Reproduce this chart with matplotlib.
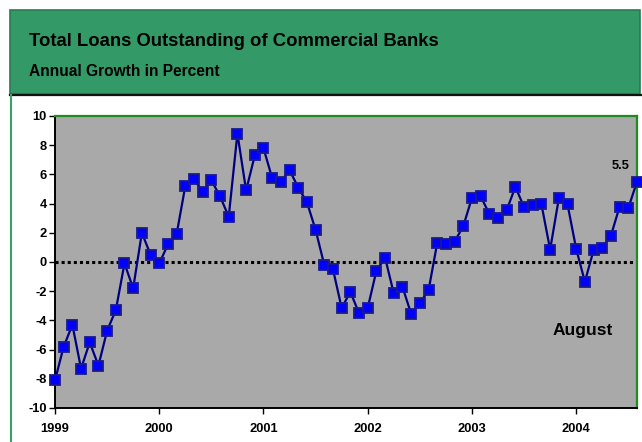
import matplotlib
matplotlib.use("Agg")
import matplotlib.pyplot as plt
from matplotlib.patches import Rectangle
from matplotlib.lines import Line2D

plt.rcParams['font.family'] = ['Liberation Sans', 'DejaVu Sans']
plt.rcParams['axes.unicode_minus'] = False

# annual growth of total loans, monthly, Jan 1999 .. Aug 2004
growth = [
    -8.1, -5.8, -4.3, -7.3, -5.5, -7.1, -4.7, -3.3, -0.1, -1.8, 2.0, 0.5,   # 1999
    -0.1, 1.2, 1.9, 5.2, 5.7, 4.8, 5.6, 4.5, 3.1, 8.8, 4.9, 7.3,            # 2000
    7.8, 5.75, 5.5, 6.3, 5.1, 4.1, 2.2, -0.2, -0.5, -3.15, -2.05, -3.5,     # 2001
    -3.15, -0.6, 0.3, -2.15, -1.7, -3.55, -2.8, -1.95, 1.3, 1.25, 1.4, 2.45,  # 2002
    4.4, 4.5, 3.3, 3.0, 3.55, 5.15, 3.75, 3.9, 3.95, 0.85, 4.35, 3.95,      # 2003
    0.9, -1.35, 0.8, 0.95, 1.8, 3.8, 3.7, 5.5,                              # 2004
]
years = ['1999', '2000', '2001', '2002', '2003', '2004']
yticks = list(range(-10, 11, 2))

title = 'Total Loans Outstanding of Commercial Banks'
subtitle = 'Annual Growth in Percent'
note = 'August'

W, H = 642, 442
fig = plt.figure(figsize=(W / 100, H / 100), dpi=100)
fig.patch.set_facecolor('white')

def fx(px):
    return px / W

def fy(py):
    return 1 - py / H

# green header band
fig.patches.append(Rectangle((fx(10), fy(94)), fx(640) - fx(10), fy(10) - fy(94),
                             transform=fig.transFigure, facecolor='#339966',
                             edgecolor='#2a7a52', linewidth=1.2, zorder=0))
fig.add_artist(Line2D([fx(10), fx(642)], [fy(94.5), fy(94.5)], transform=fig.transFigure,
                      color='#111111', linewidth=1.6))
fig.add_artist(Line2D([fx(11.5), fx(11.5)], [fy(95), 0], transform=fig.transFigure,
                      color='#3a9f6a', linewidth=1.5))

fig.text(fx(29), fy(42), title, fontsize=13.3, fontweight='bold', va='center', ha='left')
fig.text(fx(29), fy(71), subtitle, fontsize=11.2, fontweight='bold', va='center', ha='left')

ax = fig.add_axes([fx(55), fy(408), fx(637) - fx(55), fy(116) - fy(408)])
ax.set_facecolor('#a9a9a9')

x = list(range(len(growth)))
ax.axhline(0, color='black', linestyle=(0, (1, 1)), linewidth=2.2, zorder=2)
ax.plot(x, growth, color='#000080', linewidth=1.6, marker='s', markersize=6.5,
        markerfacecolor='#0000ff', markeredgecolor='#1a1a8c', markeredgewidth=1.3,
        zorder=3, clip_on=False)

ax.set_xlim(0, len(growth) - 1)
ax.set_ylim(-10, 10)
ax.set_xticks([12 * i for i in range(len(years))])
ax.set_xticklabels(years)
ax.set_yticks(yticks)
ax.tick_params(axis='both', labelsize=9.3, length=4, width=1, direction='out', pad=2)
ax.tick_params(axis='x', pad=7)
for lab in ax.get_xticklabels() + ax.get_yticklabels():
    lab.set_fontweight('bold')

ax.spines['left'].set_color('black')
ax.spines['bottom'].set_color('black')
ax.spines['left'].set_linewidth(1.4)
ax.spines['bottom'].set_linewidth(1.4)
ax.spines['top'].set_color('#1e8c1e')
ax.spines['right'].set_color('#1e8c1e')
ax.spines['top'].set_linewidth(1.6)
ax.spines['right'].set_linewidth(1.6)

ax.annotate(f'{growth[-1]:.1f}', (x[-1], growth[-1]), xytext=(-12, 11),
            textcoords='offset points', fontsize=9.3, fontweight='bold', ha='center', va='center')
ax.text(60.7, -4.66, note, fontsize=12.5, fontweight='bold', ha='center', va='center')

fig.savefig('out.png', dpi=100)
